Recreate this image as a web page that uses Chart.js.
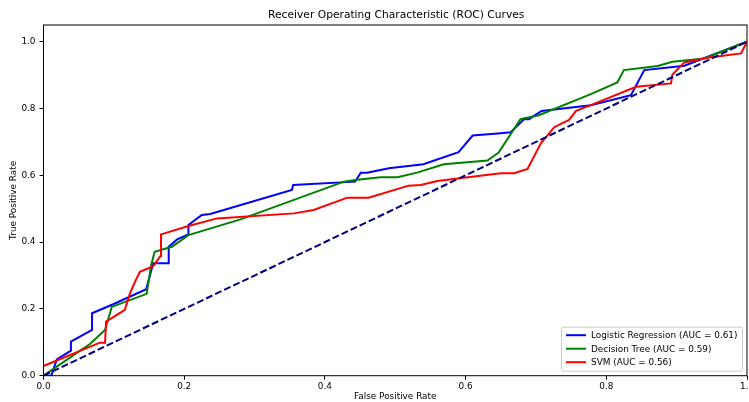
<!DOCTYPE html>
<html><head><meta charset="utf-8">
<script src="https://cdn.jsdelivr.net/npm/chart.js@4/dist/chart.umd.min.js"></script>
<style>html,body{margin:0;padding:0;background:#fff}#wrap{width:749px;height:402px}</style>
</head><body><div id="wrap"><canvas id="c" width="749" height="402"></canvas></div>
<script>
const titleText = 'Receiver Operating Characteristic (ROC) Curves';
const xLabel = 'False Positive Rate';
const yLabel = 'True Positive Rate';
const seriesNames = ['Logistic Regression (AUC = 0.61)', 'Decision Tree (AUC = 0.59)', 'SVM (AUC = 0.56)'];
const xTicks = [0, 0.2, 0.4, 0.6, 0.8, 1.0];
const yTicks = [0, 0.2, 0.4, 0.6, 0.8, 1.0];

const lrFpr = [0, 0.011, 0.019, 0.039, 0.039, 0.069, 0.069, 0.099, 0.146, 0.156, 0.178, 0.178, 0.19, 0.206, 0.206, 0.225, 0.237, 0.353, 0.355, 0.443, 0.451, 0.46, 0.491, 0.54, 0.59, 0.61, 0.65, 0.664, 0.683, 0.69, 0.708, 0.778, 0.835, 0.854, 0.911, 1.0];
const lrTpr = [0, 0, 0.049, 0.075, 0.102, 0.137, 0.187, 0.214, 0.259, 0.3365, 0.3365, 0.386, 0.408, 0.423, 0.451, 0.481, 0.484, 0.556, 0.571, 0.581, 0.608, 0.608, 0.621, 0.633, 0.669, 0.719, 0.726, 0.729, 0.768, 0.768, 0.7925, 0.81, 0.84, 0.915, 0.928, 1.0];

const dtFpr = [0, 0.066, 0.0875, 0.097, 0.1466, 0.153, 0.158, 0.1825, 0.206, 0.28, 0.427, 0.443, 0.479, 0.503, 0.531, 0.569, 0.631, 0.647, 0.678, 0.704, 0.778, 0.8157, 0.825, 0.873, 0.894, 0.939, 1.0];
const dtTpr = [0, 0.095, 0.137, 0.206, 0.245, 0.331, 0.371, 0.386, 0.421, 0.468, 0.581, 0.586, 0.594, 0.594, 0.608, 0.633, 0.644, 0.668, 0.768, 0.78, 0.843, 0.878, 0.915, 0.927, 0.94, 0.95, 1.0];

const svmFpr = [0, 0.08, 0.0875, 0.089, 0.1156, 0.123, 0.13, 0.137, 0.156, 0.166, 0.167, 0.206, 0.2465, 0.356, 0.384, 0.432, 0.462, 0.519, 0.536, 0.56, 0.5976, 0.65, 0.669, 0.688, 0.707, 0.726, 0.747, 0.757, 0.778, 0.8423, 0.892, 0.894, 0.911, 0.944, 0.9915, 1.0];
const svmTpr = [0.029, 0.099, 0.099, 0.162, 0.197, 0.247, 0.281, 0.311, 0.328, 0.358, 0.423, 0.448, 0.471, 0.486, 0.496, 0.533, 0.533, 0.569, 0.571, 0.583, 0.593, 0.606, 0.606, 0.619, 0.696, 0.744, 0.766, 0.793, 0.81, 0.865, 0.875, 0.902, 0.938, 0.952, 0.965, 1.0];

const chanceFpr = [0, 1];
const chanceTpr = [0, 1];

const colors = ['#0000ff', '#008000', '#ff0000'];
const FONT = 'DejaVu Sans';

function pts(xs, ys) { return xs.map((x, i) => ({x: x, y: ys[i]})); }

const framePlugin = {
  id: 'frame',
  afterDatasetsDraw(chart) {
    const {ctx, chartArea: a} = chart;
    ctx.save();
    ctx.strokeStyle = '#000';
    ctx.lineWidth = 1;
    ctx.strokeRect(a.left, a.top, a.right - a.left, a.bottom - a.top);
    ctx.restore();
  },
  afterDraw(chart) {
    const {ctx, chartArea: a} = chart;
    ctx.save();
    ctx.fillStyle = '#000';
    ctx.font = '10.7px "' + FONT + '"';
    ctx.textAlign = 'center';
    ctx.textBaseline = 'middle';
    ctx.fillText(titleText, (a.left + a.right) / 2 + 1, 15);
    const bw = 181, bh = 44;
    const bx = a.right - 5 - bw, by = a.bottom - 5 - bh;
    ctx.fillStyle = 'rgba(255,255,255,0.8)';
    ctx.strokeStyle = '#cccccc';
    ctx.lineWidth = 1;
    ctx.beginPath();
    if (ctx.roundRect) ctx.roundRect(bx + 0.5, by + 0.5, bw, bh, 2); else ctx.rect(bx + 0.5, by + 0.5, bw, bh);
    ctx.fill();
    ctx.stroke();
    ctx.font = '8.9px "' + FONT + '"';
    ctx.textAlign = 'left';
    ctx.textBaseline = 'middle';
    for (let i = 0; i < seriesNames.length; i++) {
      const ry = by + 8.5 + i * 13.5;
      ctx.strokeStyle = colors[i];
      ctx.lineWidth = 2;
      ctx.beginPath();
      ctx.moveTo(bx + 5, ry);
      ctx.lineTo(bx + 25, ry);
      ctx.stroke();
      ctx.fillStyle = '#000';
      ctx.fillText(seriesNames[i], bx + 30, ry + 0.5);
    }
    ctx.restore();
  }
};

new Chart(document.getElementById('c'), {
  type: 'scatter',
  data: {
    datasets: [
      {label: seriesNames[0], data: pts(lrFpr, lrTpr), borderColor: colors[0], order: 3},
      {label: seriesNames[1], data: pts(dtFpr, dtTpr), borderColor: colors[1], order: 2},
      {label: seriesNames[2], data: pts(svmFpr, svmTpr), borderColor: colors[2], order: 1},
      {label: 'chance', data: pts(chanceFpr, chanceTpr), borderColor: '#000080', borderDash: [7, 3], order: 0}
    ].map(d => Object.assign({showLine: true, pointRadius: 0, borderWidth: 2, tension: 0, fill: false}, d))
  },
  options: {
    responsive: false,
    animation: false,
    devicePixelRatio: 1,
    layout: {padding: {left: 0, right: 2, top: 25, bottom: 0}},
    plugins: {legend: {display: false}, title: {display: false}, tooltip: {enabled: false}},
    scales: {
      x: {
        type: 'linear', min: 0, max: 1,
        afterBuildTicks: s => { s.ticks = xTicks.map(v => ({value: v})); },
        afterFit: s => { s.height = 26.3; s.paddingLeft = 0; s.paddingRight = 0; },
        ticks: {callback: v => Number(v).toFixed(1), font: {family: FONT, size: 8.9}, color: '#000', padding: 2, maxRotation: 0, autoSkip: false},
        grid: {drawOnChartArea: false, drawTicks: true, tickLength: 4, color: '#000'},
        border: {display: false},
        title: {display: true, text: xLabel, font: {family: FONT, size: 8.9}, color: '#000', padding: {top: 0, bottom: 0}}
      },
      y: {
        type: 'linear', min: 0, max: 1.05,
        afterBuildTicks: s => { s.ticks = yTicks.map(v => ({value: v})); },
        afterFit: s => { s.width = 43.5; s.paddingTop = 0; s.paddingBottom = 0; },
        ticks: {callback: v => Number(v).toFixed(1), font: {family: FONT, size: 8.9}, color: '#000', padding: 4, autoSkip: false},
        grid: {drawOnChartArea: false, drawTicks: true, tickLength: 4, color: '#000'},
        border: {display: false},
        title: {display: true, text: yLabel, font: {family: FONT, size: 8.9}, color: '#000', padding: {top: 8, bottom: 0}}
      }
    }
  },
  plugins: [framePlugin]
});
</script>
</body></html>
